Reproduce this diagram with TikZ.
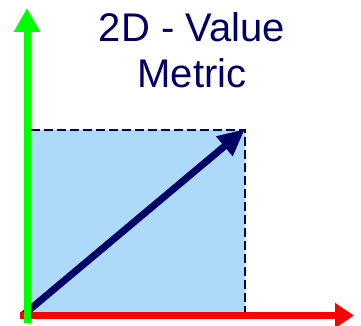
\documentclass[tikz,border=0pt]{standalone}
\usepackage{fontspec}
\setmainfont{Liberation Sans}
\usetikzlibrary{arrows.meta}
\definecolor{axisgreen}{RGB}{0,255,0}
\definecolor{axisred}{RGB}{255,0,0}
\definecolor{metricnavy}{RGB}{0,0,102}
\definecolor{areablue}{RGB}{174,218,250}

\begin{document}
\begin{tikzpicture}[x=1pt, y=-1pt, every node/.style={font=\fontsize{40}{46}\selectfont, text=metricnavy, inner sep=0pt}]
    \useasboundingbox (0,0) rectangle (361,326);
    % corners of the value box
    \coordinate (origin) at (22,316);
    \coordinate (corner) at (245,129);
    % title
    \node[anchor=base] (titleA) at (192,42) {2D - Value};
    \node[anchor=base] (titleB) at (192,88) {Metric};
    % value box
    \fill[areablue] (31,130) rectangle (245,312);
    \draw[metricnavy, line width=1.4pt, dash pattern=on 9pt off 4pt] (31,130) -- (245,130) -- (245,312);
    % value vector
    \draw[metricnavy, line width=7pt, -{Triangle[length=27pt, width=24pt]}] (origin) -- (corner);
    % axes
    \draw[axisred, line width=7pt, -{Triangle[length=19pt, width=24pt]}] (20,315.5) -- (354,315.5);
    \draw[axisgreen, line width=7pt, -{Triangle[length=24pt, width=25pt]}] (27,323) -- (27,8);
  \end{tikzpicture}
\end{document}
